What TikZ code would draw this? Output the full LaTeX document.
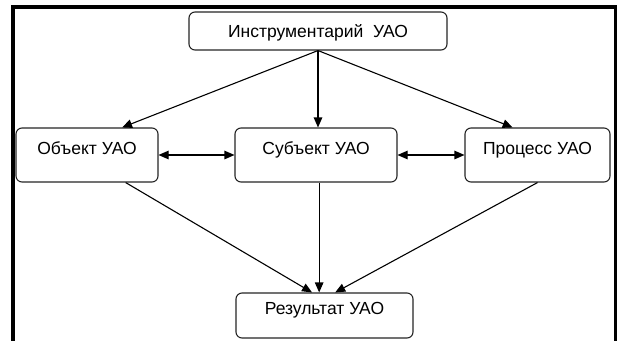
\documentclass[tikz,border=0pt]{standalone}
\usepackage{fontspec}
\setmainfont{Liberation Sans}
\usetikzlibrary{arrows.meta,calc}
\begin{document}
\begin{tikzpicture}[x=1pt,y=-1pt,
  box/.style={draw=black!85,line width=1.1pt,rounded corners=6pt,inner sep=0pt,
    font=\fontsize{17.5}{20}\selectfont,text height=12pt},
  mid/.style={box,text depth=14pt},
  conn/.style={line width=1.1pt,-{Triangle[length=10pt,width=8.5pt]}},
  dconn/.style={line width=1.1pt,{Triangle[length=10pt,width=8.5pt]}-{Triangle[length=10pt,width=8.5pt]}}]
\useasboundingbox (0,0) rectangle (617,340);
\fill[white] (0,0) rectangle (617,340);
\draw[line width=4pt] (13,342) -- (13,7) -- (615.5,7) -- (615.5,342);

\node[box,text depth=0pt,minimum width=258pt,minimum height=38pt] (instr) at (318,31) {Инструментарий\ \ УАО};
\node[mid,minimum width=142pt,minimum height=54pt] (obj) at (87,155) {Объект УАО};
\node[mid,minimum width=162pt,minimum height=54pt] (subj) at (316,155) {Субъект УАО};
\node[mid,minimum width=145pt,minimum height=54pt] (proc) at (537.5,155) {Процесс УАО};
\node[box,text depth=15pt,minimum width=177pt,minimum height=45pt] (res) at (324.5,315.5) {Результат УАО};

\coordinate (top) at (instr.south);
\draw[conn] (top) -- ($(obj.north west)!0.745!(obj.north east)$);
\draw[conn] (top) -- (top |- subj.north);
\draw[conn] (top) -- ($(proc.north west)!0.33!(proc.north east)$);
\draw[dconn] (obj.east) -- (subj.west);
\draw[dconn] (subj.east) -- (proc.west);
\coordinate (rm) at ($(res.north west)!0.47!(res.north east)$);
\draw[conn] ($(obj.south west)!0.77!(obj.south east)$) -- ($(res.north west)!0.43!(res.north east)$);
\draw[conn] (rm |- subj.south) -- (rm);
\draw[conn] (proc.south) -- ($(res.north west)!0.56!(res.north east)$);
\end{tikzpicture}
\end{document}
